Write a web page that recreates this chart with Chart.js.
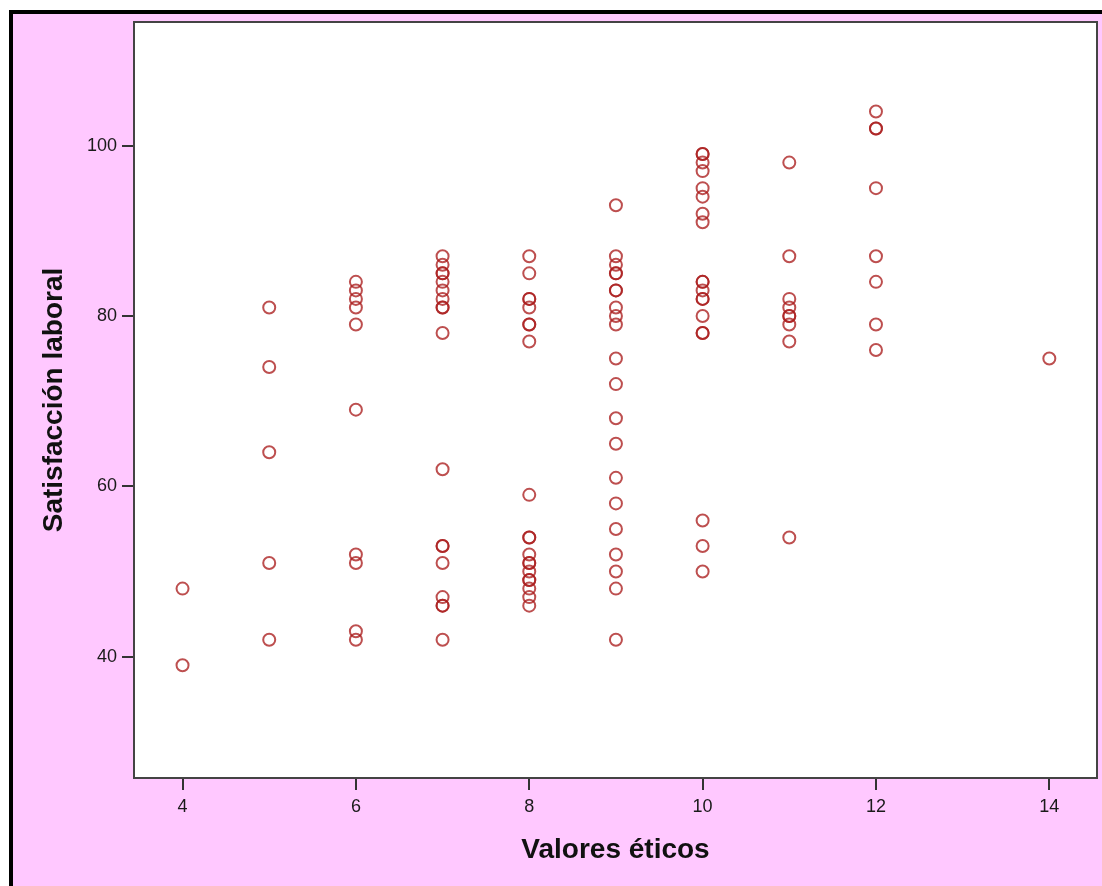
<!DOCTYPE html>
<html>
<head>
<meta charset="utf-8">
<script src="https://cdn.jsdelivr.net/npm/chart.js@4.4.1/dist/chart.umd.min.js"></script>
<style>
    html, body { margin: 0; padding: 0; background: #fff; }
    #frame {
        position: absolute; left: 9px; top: 10px; right: 0; bottom: 0;
        background: #ffc8ff;
        border-left: 4px solid #000;
        border-top: 4px solid #000;
    }
    #chart { position: absolute; left: 0; top: 0; }
</style>
</head>
<body>
<div id="frame"></div>
<canvas id="chart" width="1102" height="886"></canvas>
<script>
// Valores éticos (x) -> Satisfacción laboral (y), una lista por columna
const sat4 = [48, 39];
const sat5 = [81, 74, 64, 51, 42];
const sat6 = [84, 83, 82, 81, 79, 69, 52, 51, 43, 42];
const sat7 = [87, 86, 85, 85, 84, 83, 82, 81, 81, 78, 62, 53, 53, 51, 47, 46, 46, 42];
const sat8 = [87, 85, 82, 82, 81, 79, 79, 77, 59, 54, 54, 52, 51, 51, 50, 49, 49, 48, 47, 46];
const sat9 = [93, 87, 86, 85, 85, 83, 83, 81, 80, 79, 75, 72, 68, 65, 61, 58, 55, 52, 50, 48, 42];
const sat10 = [99, 99, 98, 97, 95, 94, 92, 91, 84, 84, 83, 82, 82, 80, 78, 78, 56, 53, 50];
const sat11 = [98, 87, 82, 81, 80, 80, 79, 77, 54];
const sat12 = [104, 102, 102, 95, 87, 84, 79, 76];
const sat14 = [75];

const columns = [[4, sat4], [5, sat5], [6, sat6], [7, sat7], [8, sat8], [9, sat9],
                 [10, sat10], [11, sat11], [12, sat12], [14, sat14]];

const xTicks = [4, 6, 8, 10, 12, 14];
const yTicks = [40, 60, 80, 100];

const points = [];
columns.forEach(([x, ys]) => ys.forEach(y => points.push({x: x, y: y})));

// fondo blanco y marco del área de trazado
const plotFrame = {
    id: 'plotFrame',
    beforeDraw(chart) {
        const a = chart.chartArea, ctx = chart.ctx;
        ctx.save();
        ctx.fillStyle = '#fff';
        ctx.fillRect(a.left, a.top, a.right - a.left, a.bottom - a.top);
        ctx.restore();
    },
    afterDraw(chart) {
        const a = chart.chartArea, ctx = chart.ctx;
        ctx.save();
        ctx.strokeStyle = '#444';
        ctx.lineWidth = 2;
        ctx.strokeRect(a.left, a.top, a.right - a.left, a.bottom - a.top);
        ctx.restore();
    }
};

const tickFont = { family: 'Liberation Sans, Arial, sans-serif', size: 18 };
const titleFont = { family: 'Liberation Sans, Arial, sans-serif', size: 28, weight: 'bold' };

new Chart(document.getElementById('chart'), {
    type: 'scatter',
    data: {
        datasets: [{
            data: points,
            pointStyle: 'circle',
            pointRadius: 6,
            pointBorderWidth: 2,
            pointBackgroundColor: 'rgba(0,0,0,0)',
            pointBorderColor: 'rgba(170,30,30,0.78)'
        }]
    },
    options: {
        responsive: false,
        animation: false,
        events: [],
        layout: { autoPadding: false, padding: { left: 0, top: 22, right: 5, bottom: 0 } },
        plugins: { legend: { display: false }, tooltip: { enabled: false } },
        scales: {
            x: {
                type: 'linear',
                min: 3.44,
                max: 14.55,
                afterBuildTicks: s => { s.ticks = xTicks.map(v => ({ value: v })); },
                afterFit: s => { s.height = 108; s.paddingLeft = 0; s.paddingRight = 0; },
                grid: { drawOnChartArea: false, color: '#333', lineWidth: 2, tickLength: 12 },
                border: { display: false },
                ticks: { color: '#1a1a1a', font: tickFont, padding: 6 },
                title: { display: true, text: 'Valores éticos', color: '#111', font: titleFont, padding: { top: 0, bottom: 19 } }
            },
            y: {
                type: 'linear',
                min: 25.77,
                max: 114.5,
                afterBuildTicks: s => { s.ticks = yTicks.map(v => ({ value: v })); },
                afterFit: s => { s.width = 134; s.paddingTop = 0; s.paddingBottom = 0; },
                grid: { drawOnChartArea: false, color: '#333', lineWidth: 2, tickLength: 12 },
                border: { display: false },
                ticks: { color: '#1a1a1a', font: tickFont, padding: 5 },
                title: { display: true, text: 'Satisfacción laboral', color: '#111', font: titleFont, padding: { top: 37, bottom: 0 } }
            }
        }
    },
    plugins: [plotFrame]
});
</script>
</body>
</html>
